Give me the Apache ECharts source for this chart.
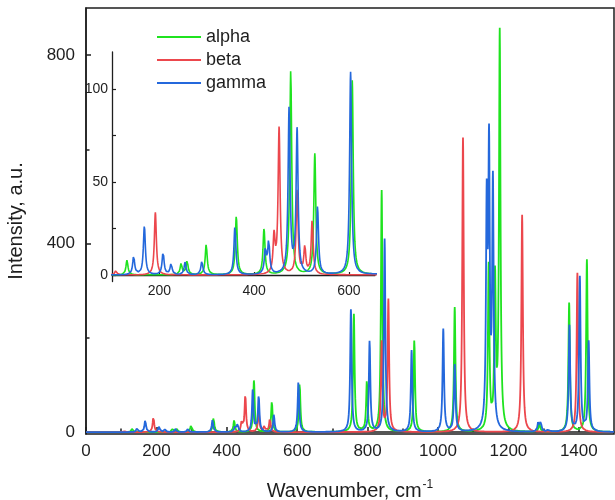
<!DOCTYPE html>
<html>
<head>
<meta charset="utf-8">
<script src="https://cdn.jsdelivr.net/npm/echarts@6/dist/echarts.min.js"></script>
<style>
  html, body { margin: 0; padding: 0; background: #fff; }
  #chart { width: 615px; height: 500px; }
</style>
</head>
<body>
<div id="chart"></div>
<script>
// Band centres (cm^-1) and band heights (a.u.) of each spectrum
const seriesNames = ['alpha', 'beta', 'gamma'];

const alphaPos = [131.6, 245.9, 258.5, 298.8, 362.3, 420.8, 477.2, 528, 607,
                  761, 798, 840, 932.7, 1047.5, 1144, 1162, 1175.4, 1288, 1372.6, 1423];
const alphaAmp = [8, 6, 7.3, 16.3, 31.5, 24.7, 110, 65, 104.5,
                  250, 109, 513, 195, 264.5, 350, 318, 845, 19, 274, 366];

const betaPos = [108.3, 191.5, 442, 452.6, 490.6, 506.9, 522.4,
                 840, 859, 1071, 1239, 1396];
const betaAmp = [2.3, 33.7, 20, 78.7, 45, 14.3, 29,
                 190, 280, 625, 461, 338];

const gammaPos = [145.7, 168.3, 207.8, 224.7, 254.3, 289.6, 359.4, 423.6, 430.7, 473.7, 490.6, 533.7, 603.5,
                  752.6, 805.7, 848.4, 925, 1015, 1047.5, 1138.4, 1145, 1156, 1285, 1292, 1314, 1373.4, 1403, 1428];
const gammaAmp = [10, 26.2, 12.2, 5.9, 6.8, 7.3, 26, 12.9, 17.5, 89.2, 77.4, 36.4, 109,
                  260, 193, 409.5, 173, 218, 142, 456, 572, 517, 21.5, 20, 6, 225, 328, 191];

// Axis tick values
const mainXLabels = [0, 200, 400, 600, 800, 1000, 1200, 1400];
const mainXMinor = [100, 300, 500, 700, 900, 1100, 1300];
const mainYLabels = [0, 400, 800];
const mainYMinor = [200, 600];
const insetXLabels = [200, 400, 600];
const insetYLabels = [0, 50, 100];
const insetYMinor = [25, 75];

const colors = ['#1fe31f', '#ec474d', '#2468dc'];
const HWHM = 2.5;          // Lorentzian half-width of each band
const STEP = 0.5;          // wavenumber sampling step

const peaks = [
  { pos: alphaPos, amp: alphaAmp },
  { pos: betaPos, amp: betaAmp },
  { pos: gammaPos, amp: gammaAmp }
];

// sampling grid, including every band centre so the maxima are drawn exactly
function buildGrid(p) {
  const xs = [];
  for (let x = 0; x <= 1500 + 1e-9; x += STEP) xs.push(+x.toFixed(2));
  p.pos.forEach(c => xs.push(c));
  return Array.from(new Set(xs)).sort((a, b) => a - b);
}

function spectrum(p) {
  return buildGrid(p).map(x => {
    let y = 0;
    for (let i = 0; i < p.pos.length; i++) {
      const d = (x - p.pos[i]) / HWHM;
      y += p.amp[i] / (1 + d * d);
    }
    return [x, y];
  });
}

const spectra = peaks.map(spectrum);

const FONT = 'Liberation Sans, Arial, sans-serif';
const INK = '#1e1e1e';
const plain = v => String(v);

const chart = echarts.init(document.getElementById('chart'), null, { renderer: 'canvas' });

const series = [];
spectra.forEach((data, i) => {
  series.push({
    name: seriesNames[i], type: 'line', data: data,
    xAxisIndex: 0, yAxisIndex: 0,
    symbol: 'none', showSymbol: false, sampling: null, clip: true,
    lineStyle: { width: 1.8, color: colors[i] }, itemStyle: { color: colors[i] },
    z: 3 + i
  });
});
spectra.forEach((data, i) => {
  series.push({
    name: seriesNames[i], type: 'line',
    data: data.filter(d => d[0] >= 95 && d[0] <= 660),
    xAxisIndex: 1, yAxisIndex: 1,
    symbol: 'none', showSymbol: false, clip: true,
    lineStyle: { width: 1.6, color: colors[i] }, itemStyle: { color: colors[i] },
    z: 3 + i
  });
});

const option = {
  animation: false,
  backgroundColor: '#ffffff',
  textStyle: { fontFamily: FONT },
  color: colors,
  legend: {
    data: seriesNames,
    orient: 'vertical',
    left: 157, top: 28,
    padding: 0,
    icon: 'rect',
    itemWidth: 44, itemHeight: 2, itemGap: 5,
    textStyle: { fontSize: 18, color: INK, fontFamily: FONT, lineHeight: 18 }
  },
  grid: [
    { left: 86, top: 8, width: 528, height: 426, outerBoundsMode: 'none', containLabel: false,
      show: true, borderColor: INK, borderWidth: 1.5, backgroundColor: 'transparent' },
    { left: 112, top: 52, width: 263, height: 229.5, outerBoundsMode: 'none', containLabel: false }
  ],
  xAxis: [
    {
      type: 'value', gridIndex: 0, min: 0, max: 1500,
      name: 'Wavenumber, cm{sup|-1}', nameLocation: 'middle', nameGap: 45,
      nameTextStyle: {
        fontSize: 20, color: INK, fontFamily: FONT,
        rich: { sup: { fontSize: 12, verticalAlign: 'top', padding: [0, 0, 12, 1], color: INK, fontFamily: FONT } }
      },
      axisLine: { lineStyle: { color: INK, width: 1.5 } },
      axisTick: { inside: true, length: 5, customValues: mainXLabels, lineStyle: { color: INK, width: 1.5 } },
      axisLabel: { customValues: mainXLabels, formatter: plain, fontSize: 17, color: INK, margin: 9, fontFamily: FONT },
      splitLine: { show: false }
    },
    {
      type: 'value', gridIndex: 1, min: 100, max: 655,
      axisLine: { lineStyle: { color: INK, width: 1.3 } },
      axisTick: { inside: true, length: 3, customValues: insetXLabels, lineStyle: { color: INK, width: 1.2 } },
      axisLabel: { customValues: insetXLabels, formatter: plain, fontSize: 14, color: INK, margin: 3, fontFamily: FONT },
      splitLine: { show: false }
    },
    {
      // short ticks between labelled wavenumbers
      type: 'value', gridIndex: 0, min: 0, max: 1500, position: 'bottom',
      axisLine: { show: false },
      axisTick: { inside: true, length: 3.5, customValues: mainXMinor, lineStyle: { color: INK, width: 1.5 } },
      axisLabel: { show: false },
      splitLine: { show: false }
    }
  ],
  yAxis: [
    {
      type: 'value', gridIndex: 0, min: -4, max: 900,
      name: 'Intensity, a.u.', nameLocation: 'middle', nameGap: 60,
      nameTextStyle: { fontSize: 20, color: INK, fontFamily: FONT },
      axisLine: { show: true, lineStyle: { color: INK, width: 1.5 } },
      axisTick: { show: true, inside: true, length: 5, customValues: mainYLabels, lineStyle: { color: INK, width: 1.5 } },
      axisLabel: { customValues: mainYLabels, formatter: plain, fontSize: 17, color: INK, margin: 11, fontFamily: FONT },
      splitLine: { show: false }
    },
    {
      type: 'value', gridIndex: 1, min: -3.5, max: 120,
      axisLine: { show: true, lineStyle: { color: INK, width: 1.3 } },
      axisTick: { show: true, inside: true, length: 4, customValues: insetYLabels.concat(insetYMinor), lineStyle: { color: INK, width: 1.2 } },
      axisLabel: { customValues: insetYLabels, formatter: plain, fontSize: 14, color: INK, margin: 4, fontFamily: FONT },
      splitLine: { show: false }
    },
    {
      type: 'value', gridIndex: 0, min: -4, max: 900, position: 'left',
      axisLine: { show: false },
      axisTick: { show: true, inside: true, length: 3.5, customValues: mainYMinor, lineStyle: { color: INK, width: 1.5 } },
      axisLabel: { show: false },
      splitLine: { show: false }
    }
  ],
  series: series
};

chart.setOption(option);
</script>
</body>
</html>
